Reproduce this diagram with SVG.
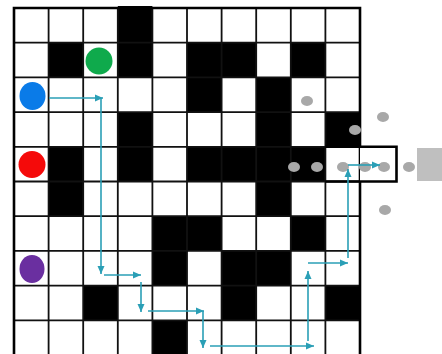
<svg xmlns="http://www.w3.org/2000/svg" width="442" height="354" viewBox="0 0 442 354">
<style>
.blk{fill:#000}
.gl{stroke:#111;stroke-width:1.8;fill:none}
.dot{fill:#a8a8a8}
.ar{stroke:#2a9fb6;stroke-width:1.6;fill:none;marker-end:url(#ah)}
</style>
<defs>
<marker id="ah" markerUnits="userSpaceOnUse" markerWidth="9" markerHeight="8" refX="8" refY="4" orient="auto">
<path d="M0,0.5 L8,4 L0,7.5 z" fill="#2a9fb6"/>
</marker>
</defs>
<rect width="442" height="354" fill="#fff"/>
<g id="grid">
<rect x="14" y="8" width="346" height="350" fill="#fff"/>
<g id="walls">
<rect class="blk" x="117.8" y="6" width="34.6" height="36.7"/>
<rect class="blk" x="48.6" y="42.7" width="34.6" height="34.7"/>
<rect class="blk" x="117.8" y="42.7" width="34.6" height="34.7"/>
<rect class="blk" x="187" y="42.7" width="69.2" height="34.7"/>
<rect class="blk" x="290.8" y="42.7" width="34.6" height="34.7"/>
<rect class="blk" x="187" y="77.4" width="34.6" height="34.7"/>
<rect class="blk" x="256.2" y="77.4" width="34.6" height="34.7"/>
<rect class="blk" x="117.8" y="112.1" width="34.6" height="34.7"/>
<rect class="blk" x="256.2" y="112.1" width="34.6" height="34.7"/>
<rect class="blk" x="325.4" y="112.1" width="34.6" height="34.7"/>
<rect class="blk" x="48.6" y="146.8" width="34.6" height="34.7"/>
<rect class="blk" x="117.8" y="146.8" width="34.6" height="34.7"/>
<rect class="blk" x="187" y="146.8" width="138.4" height="34.7"/>
<rect class="blk" x="48.6" y="181.5" width="34.6" height="34.7"/>
<rect class="blk" x="256.2" y="181.5" width="34.6" height="34.7"/>
<rect class="blk" x="152.4" y="216.2" width="69.2" height="34.7"/>
<rect class="blk" x="290.8" y="216.2" width="34.6" height="34.7"/>
<rect class="blk" x="152.4" y="250.9" width="34.6" height="34.7"/>
<rect class="blk" x="221.6" y="250.9" width="69.2" height="34.7"/>
<rect class="blk" x="83.2" y="285.6" width="34.6" height="34.7"/>
<rect class="blk" x="221.6" y="285.6" width="34.6" height="34.7"/>
<rect class="blk" x="325.4" y="285.6" width="34.6" height="34.7"/>
<rect class="blk" x="152.4" y="320.3" width="34.6" height="34.7"/>
</g>
<path class="gl" d="M48.6,8V358M83.2,8V358M117.8,8V358M152.4,8V358M187,8V358M221.6,8V358M256.2,8V358M290.8,8V358M325.4,8V358M14,42.7H360M14,77.4H360M14,112.1H360M14,146.8H360M14,181.5H360M14,216.2H360M14,250.9H360M14,285.6H360M14,320.3H360"/>
<path d="M14,358V8H360V358" fill="none" stroke="#000" stroke-width="2.6"/>
</g>
<g id="exit">
<rect x="360" y="146.8" width="36" height="34.7" fill="#fff"/>
<path d="M325.4,146.8H396.5V181.5H325.4" fill="none" stroke="#000" stroke-width="2.6"/>
<rect x="417" y="148" width="25" height="33" fill="#bfbfbf"/>
</g>
<g id="agents">
<ellipse id="blue" cx="32.5" cy="96" rx="13" ry="14" fill="#0a7be8"/>
<ellipse id="green" cx="99" cy="61" rx="13.5" ry="13.5" fill="#0faa4c"/>
<ellipse id="red" cx="32" cy="164.5" rx="13.5" ry="13.5" fill="#f50a0a"/>
<ellipse id="purple" cx="32" cy="269" rx="12.5" ry="14" fill="#6a2fa0"/>
</g>
<g id="dots">
<ellipse class="dot" cx="307" cy="101" rx="6" ry="5"/>
<ellipse class="dot" cx="383" cy="117" rx="6" ry="5"/>
<ellipse class="dot" cx="355" cy="130" rx="6" ry="5"/>
<ellipse class="dot" cx="294" cy="167" rx="6" ry="5"/>
<ellipse class="dot" cx="317" cy="167" rx="6" ry="5"/>
<ellipse class="dot" cx="343" cy="167" rx="6" ry="5"/>
<ellipse class="dot" cx="365" cy="167" rx="6" ry="5"/>
<ellipse class="dot" cx="384" cy="167" rx="6" ry="5"/>
<ellipse class="dot" cx="409" cy="167" rx="6" ry="5"/>
<ellipse class="dot" cx="385" cy="210" rx="6" ry="5"/>
</g>
<g id="connectors">
<line class="ar" x1="49" y1="98" x2="103" y2="98"/>
<line class="ar" x1="101" y1="98" x2="101" y2="274"/>
<line class="ar" x1="104" y1="275" x2="141" y2="275"/>
<line class="ar" x1="141" y1="282" x2="141" y2="312"/>
<line class="ar" x1="148" y1="311" x2="204" y2="311"/>
<line class="ar" x1="203" y1="311" x2="203" y2="348"/>
<line class="ar" x1="210" y1="346" x2="314" y2="346"/>
<line class="ar" x1="308" y1="341" x2="308" y2="271"/>
<line class="ar" x1="308" y1="263" x2="348" y2="263"/>
<line class="ar" x1="348" y1="258" x2="348" y2="169"/>
<line class="ar" x1="348" y1="165" x2="380" y2="165"/>
</g>
</svg>
